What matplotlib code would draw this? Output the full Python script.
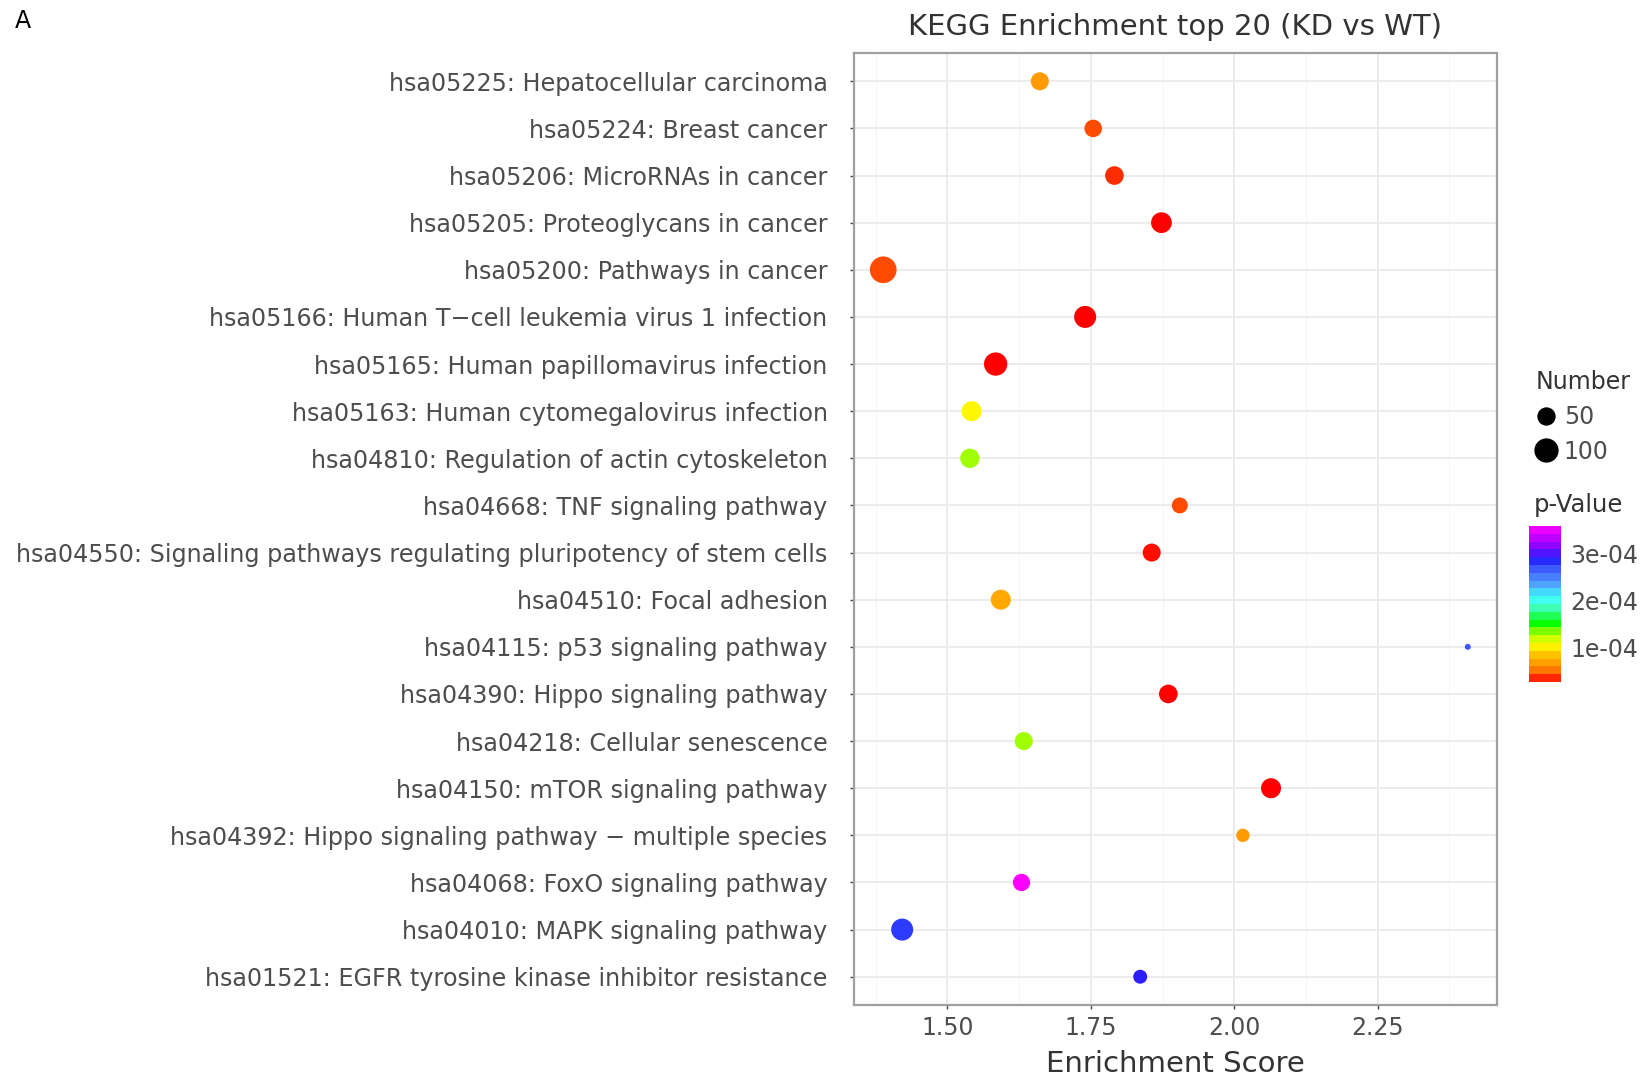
import numpy as np
import matplotlib
matplotlib.use("Agg")
import matplotlib.pyplot as plt
from matplotlib.colors import LinearSegmentedColormap, ListedColormap, Normalize
from matplotlib.cm import ScalarMappable
from matplotlib.lines import Line2D

plt.rcParams["font.family"] = ["DejaVu Sans"]

# KEGG terms, top of the chart first
terms = [
    "hsa05225: Hepatocellular carcinoma",
    "hsa05224: Breast cancer",
    "hsa05206: MicroRNAs in cancer",
    "hsa05205: Proteoglycans in cancer",
    "hsa05200: Pathways in cancer",
    "hsa05166: Human T\u2212cell leukemia virus 1 infection",
    "hsa05165: Human papillomavirus infection",
    "hsa05163: Human cytomegalovirus infection",
    "hsa04810: Regulation of actin cytoskeleton",
    "hsa04668: TNF signaling pathway",
    "hsa04550: Signaling pathways regulating pluripotency of stem cells",
    "hsa04510: Focal adhesion",
    "hsa04115: p53 signaling pathway",
    "hsa04390: Hippo signaling pathway",
    "hsa04218: Cellular senescence",
    "hsa04150: mTOR signaling pathway",
    "hsa04392: Hippo signaling pathway \u2212 multiple species",
    "hsa04068: FoxO signaling pathway",
    "hsa04010: MAPK signaling pathway",
    "hsa01521: EGFR tyrosine kinase inhibitor resistance",
]
enrichment = [1.661, 1.754, 1.791, 1.873, 1.388, 1.740, 1.584, 1.542, 1.539, 1.905,
              1.856, 1.593, 2.407, 1.885, 1.633, 2.064, 2.015, 1.629, 1.421, 1.836]
gene_number = [58, 54, 63, 82, 152, 95, 109, 75, 69, 43,
               58, 75, 10, 63, 58, 75, 28, 52, 95, 31]
p_value = [6.7e-5, 4.4e-5, 3.8e-5, 2.8e-5, 4.4e-5, 2.8e-5, 2.8e-5, 1.04e-4, 1.30e-4, 4.4e-5,
           3.1e-5, 7.4e-5, 2.68e-4, 2.8e-5, 1.30e-4, 2.8e-5, 6.7e-5, 3.57e-4, 2.78e-4, 2.91e-4]

x_ticks = [1.50, 1.75, 2.00, 2.25]
size_breaks = [50, 100]
p_ticks = [1e-4, 2e-4, 3e-4]
p_tick_labels = ["1e-04", "2e-04", "3e-04"]

DPI = 100
TXT = "#4D4D4D"

# rainbow-like gradient, low p (red) to high p (magenta)
cmap = LinearSegmentedColormap.from_list("pval", [
    (0.00, "#FF0000"), (0.08, "#FF8000"), (0.17, "#FFC000"), (0.24, "#FFFF00"),
    (0.31, "#A0FF00"), (0.38, "#00FF00"), (0.47, "#40FFB0"), (0.54, "#40FFFF"),
    (0.63, "#50A0FF"), (0.72, "#4060FF"), (0.79, "#2020FF"), (0.89, "#A000FF"),
    (1.00, "#FF00FF")])
norm = Normalize(vmin=min(p_value), vmax=max(p_value))

# size scale like ggplot's area palette: diameter grows with sqrt of rescaled count
d_min, d_max = 6.0, 26.7  # pixels
n_lo, n_hi = min(gene_number), max(gene_number)


def marker_area(n):
    n = np.asarray(n, dtype=float)
    d = d_min + (d_max - d_min) * np.sqrt((n - n_lo) / (n_hi - n_lo))
    return (d * 72.0 / DPI) ** 2


fig = plt.figure(figsize=(16.48, 10.79), dpi=DPI)
ax = fig.add_axes([854 / 1648, 1 - 1005 / 1079, (1497 - 854) / 1648, (1005 - 53) / 1079])

ypos = np.arange(len(terms))[::-1] + 1
ax.scatter(enrichment, ypos, s=marker_area(gene_number), c=p_value, cmap=cmap, norm=norm,
           edgecolors="none", zorder=3)

span = max(enrichment) - min(enrichment)
ax.set_xlim(min(enrichment) - 0.05 * span, max(enrichment) + 0.05 * span)
ax.set_ylim(0.4, len(terms) + 0.6)
ax.set_yticks(ypos)
ax.set_yticklabels(terms)
ax.set_xticks(x_ticks)
ax.set_xticklabels(["%.2f" % v for v in x_ticks])
ax.set_xticks([v + 0.125 for v in [x_ticks[0] - 0.25] + x_ticks], minor=True)

ax.grid(True, which="major", color="#EBEBEB", linewidth=1.3, zorder=0)
ax.grid(True, which="minor", axis="x", color="#F4F4F4", linewidth=0.7, zorder=0)
ax.set_axisbelow(True)
for sp in ax.spines.values():
    sp.set_color("#A0A0A0")
    sp.set_linewidth(1.6)
ax.tick_params(axis="y", which="major", length=3, width=1, color="#444444",
               labelsize=17.2, labelcolor=TXT, pad=16)
ax.tick_params(axis="x", which="major", length=3, width=1, color="#444444",
               labelsize=17, labelcolor=TXT, pad=5)
ax.tick_params(axis="both", which="minor", length=0)

ax.set_xlabel("Enrichment Score", fontsize=21, color="#333333", labelpad=7)
ax.set_title("KEGG Enrichment top 20 (KD vs WT)", fontsize=21, color="#333333", pad=13)

fig.text(23 / 1648, 1 - 21 / 1079, "A", fontsize=17, color="black", ha="center", va="center")

# size legend
handles = [Line2D([], [], linestyle="none", marker="o", markerfacecolor="black",
                  markeredgecolor="none", markersize=np.sqrt(marker_area(b)) * 1.08)
           for b in size_breaks]
leg = fig.legend(handles, [str(b) for b in size_breaks], title="Number",
                 loc="upper left", bbox_to_anchor=(1526 / 1648, 1 - 361 / 1079),
                 frameon=False, fontsize=17, title_fontsize=17, handletextpad=0.3,
                 labelspacing=0.45, borderaxespad=0, handlelength=0.9, alignment="left")
for t in leg.get_texts():
    t.set_color(TXT)
leg.get_title().set_color("#333333")

# p-value colour bar, drawn in bands
band_cmap = ListedColormap(cmap(np.linspace(0.025, 0.975, 20)))
cax = fig.add_axes([1529 / 1648, 1 - 682 / 1079, 32 / 1648, 156 / 1079])
cb = fig.colorbar(ScalarMappable(norm=norm, cmap=band_cmap), cax=cax)
cb.outline.set_visible(False)
cb.set_ticks(p_ticks)
cb.set_ticklabels(p_tick_labels)
cax.tick_params(length=4, width=1, color="white", labelsize=17, labelcolor=TXT, pad=3)
fig.text(1534 / 1648, 1 - 505 / 1079, "p-Value", fontsize=17.5, color="#333333",
         ha="left", va="center")

fig.savefig("out.png", dpi=DPI)
